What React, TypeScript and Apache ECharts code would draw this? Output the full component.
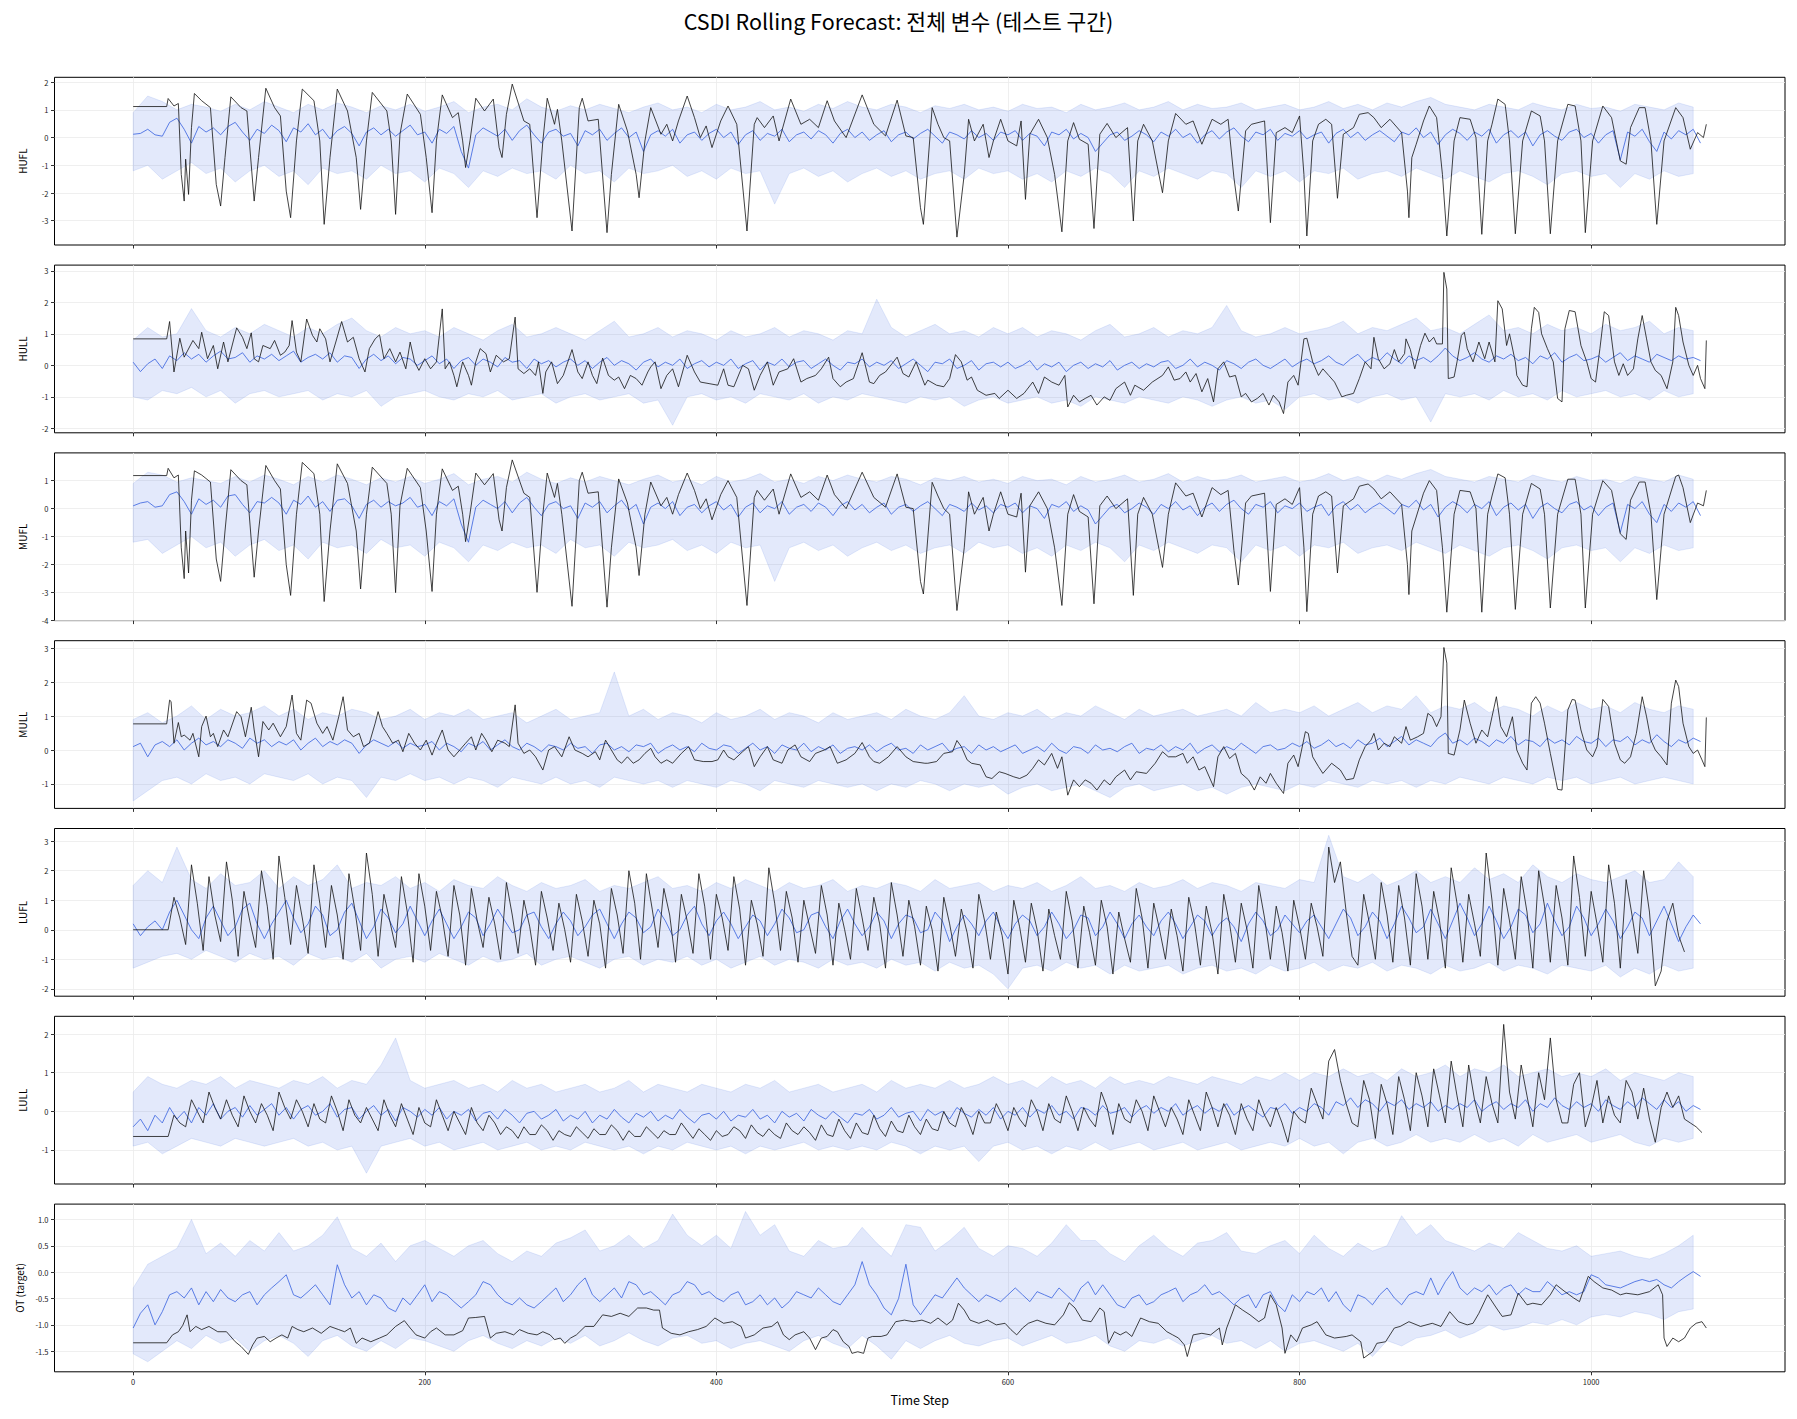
import React, { useEffect, useRef } from 'react';
import * as echarts from 'echarts';

const TITLE = 'CSDI Rolling Forecast: 전체 변수 (테스트 구간)';
const X_TICKS = [0, 200, 400, 600, 800, 1000];
const MEAN_STEP = 5;
const BAND_STEP = 10;
const DENSE_START = 24;
const DENSE_STEP = 4;

// ---------------- HUFL ----------------
const HUFL_TICKS = [-3, -2, -1, 0, 1, 2];
const HUFL_ACT = [[0,1.12],[23,1.12],[24,1.41],[28,1.14],[31,1.23],[33,-1.33],[35,-2.29],[36,-0.78],[38,-2.05],[40,0.36],[42,1.59],[47,1.33],[53,1.08],[57,-1.69],[60,-2.47],[63,-0.72],[67,1.47],[74,1.08],[78,0.96],[83,-2.29],[86,-0.72],[91,1.78],[97,1.08],[101,0.78],[105,-1.93],[108,-2.89],[112,-0.12],[116,1.75],[124,1.33],[128,-0.12],[131,-3.13],[135,-0.72],[140,1.75],[147,0.96],[153,-0.72],[156,-2.59],[160,-0.12],[164,1.63],[174,0.96],[177,-0.12],[180,-2.77],[183,0.12],[188,1.57],[197,0.84],[201,-0.72],[205,-2.71],[208,-0.12],[212,1.54],[219,0.72],[223,0.9],[226,-0.12],[228,-1.08],[231,-0.12],[235,1.42],[241,0.96],[247,1.39],[251,-0.36],[253,-0.72],[256,0.84],[260,1.93],[268,0.6],[272,0.48],[277,-2.89],[281,-0.12],[284,1.42],[289,0.48],[291,1.02],[294,-0.12],[301,-3.37],[306,1.08],[308,1.42],[312,0.6],[319,0.66],[325,-3.43],[328,-1.33],[333,1.2],[339,0.24],[345,-1.33],[347,-2.17],[351,-0.12],[355,1.08],[362,0.12],[366,0.48],[370,-0.12],[374,0.6],[380,1.5],[385,0.72],[389,0],[393,0.42],[397,-0.36],[403,0.6],[408,1.14],[414,0.48],[421,-3.37],[426,0.48],[428,0.72],[433,0.36],[439,0.78],[443,-0.12],[451,1.39],[458,0.48],[464,0.66],[470,0.36],[476,1.33],[481,0.6],[489,0],[500,1.54],[508,0.48],[516,0.06],[524,1.35],[530,0.06],[535,0],[540,-2.53],[542,-3.13],[548,1.08],[552,0.48],[556,0],[560,-0.12],[565,-3.59],[570,-1.33],[573,0.66],[577,-0.12],[583,0.48],[587,-0.72],[590,-0.12],[595,0.66],[600,-0.12],[606,-0.3],[609,0.6],[612,-2.23],[615,0.12],[621,0.66],[627,0],[632,-1.33],[637,-3.4],[641,-0.12],[645,0.54],[649,-0.06],[655,-0.24],[659,-3.28],[663,0.12],[668,0.51],[674,0],[682,0.36],[686,-3.01],[689,-0.12],[693,0.48],[699,-0.12],[706,-1.99],[710,-0.12],[715,0.87],[722,0.48],[727,0.6],[733,-0.24],[740,0.66],[746,0.48],[751,0.66],[755,-1.45],[758,-2.65],[763,0.24],[767,0.48],[776,0.6],[780,-3.07],[784,0.18],[790,0.36],[795,0.18],[800,0.78],[803,-1.33],[805,-3.55],[809,-0.12],[813,0.48],[818,0.66],[822,0.48],[826,-2.19],[830,0.12],[837,0.36],[841,0.84],[847,0.9],[851,0.72],[856,0.36],[862,0.66],[870,0.18],[874,-1.93],[875,-2.89],[877,-0.72],[880,-0.24],[885,0.6],[889,1.14],[894,0.72],[898,-1.33],[901,-3.55],[906,-0.12],[910,0.72],[917,0.66],[921,0],[925,-3.49],[929,-0.12],[932,0.48],[936,1.39],[941,1.2],[944,-0.12],[948,-3.47],[953,-0.12],[959,0.96],[965,0.78],[968,-0.12],[972,-3.47],[977,-0.12],[984,1.2],[989,1.14],[993,-0.12],[996,-3.43],[1001,-0.12],[1008,1.14],[1014,0.72],[1020,-0.84],[1024,-0.96],[1027,0.36],[1033,1.08],[1037,1.08],[1041,-0.12],[1045,-3.13],[1050,-0.12],[1058,1.08],[1063,0.72],[1068,-0.42],[1073,0.18],[1077,0],[1079,0.48]];
const HUFL_MEAN = [
0.12,0.15,0.3,0.1,0.05,0.55,0.7,0.3,-0.2,0.4,0.2,0.35,0.1,0.4,0.55,0.2,-0.1,0.3,0.15,0.45,
0.25,-0.15,0.35,0.2,0.5,0.1,0.3,-0.05,0.25,0.4,0.15,-0.3,0.2,0.35,0.1,0.3,0.05,0.25,0.45,0.1,
0.2,-0.2,0.3,0.15,0.4,-0.5,-1.1,0.1,0.35,0.2,0.05,0.3,-0.1,0.25,0.45,0.1,-0.2,0.2,0.3,0.05,
0.15,-0.3,0.25,0.1,0.3,-0.1,0.15,0.35,0.0,0.2,-0.5,0.1,0.25,0.05,0.3,-0.2,0.1,0.2,-0.1,0.15,
0.3,0.0,0.2,-0.25,0.1,0.25,-0.1,0.15,0.05,0.3,-0.15,0.1,0.2,-0.05,0.25,0.1,-0.2,0.15,0.3,0.0,
0.2,-0.1,0.1,0.25,-0.15,0.1,0.2,-0.05,0.15,0.3,0.05,-0.2,0.2,0.1,-0.05,0.25,0.0,0.15,-0.1,0.2,
0.1,0.25,-0.1,0.15,0.05,-0.3,0.2,0.1,0.3,-0.05,0.15,0.0,-0.5,-0.2,0.1,0.2,-0.1,0.05,0.25,0.1,
-0.15,0.2,0.05,0.3,0.0,0.15,-0.2,0.1,0.25,-0.05,0.2,0.35,0.05,-0.15,0.2,0.1,0.3,-0.1,0.15,0.05,
0.25,-0.05,0.1,0.2,-0.2,0.15,0.3,0.0,0.2,-0.1,0.1,0.25,0.05,-0.15,0.2,0.1,0.35,0.0,0.2,-0.25,
0.1,0.3,0.15,-0.1,0.2,0.05,0.3,-0.2,0.1,0.25,0.0,0.2,-0.3,0.1,0.25,0.05,-0.1,0.2,0.3,0.0,
0.15,-0.2,0.1,0.25,-0.8,0.2,0.05,0.3,-0.15,-0.5,0.2,-0.05,0.25,0.1,0.3,-0.2];
const HUFL_UP = [
0.9,1.5,1.3,1.0,1.2,1.1,0.95,1.2,1.0,1.3,1.1,0.9,1.2,1.0,1.25,1.1,0.9,1.15,1.0,1.2,
0.95,1.1,1.3,0.9,1.1,1.2,1.0,1.4,1.1,0.95,1.15,1.0,1.2,1.05,0.9,1.1,1.25,1.0,1.1,0.9,
1.2,1.0,1.1,1.3,1.0,1.1,0.95,1.2,1.05,1.3,1.1,1.0,1.2,1.1,0.9,1.15,1.05,1.2,1.0,1.1,
0.95,1.2,1.05,1.1,0.9,1.2,1.0,1.1,1.25,1.0,1.1,1.3,1.0,1.2,1.05,1.1,1.25,1.0,1.1,1.2,
1.0,1.1,1.3,1.05,1.2,1.0,1.25,1.1,1.3,1.45,1.2,1.1,1.0,1.2,1.1,1.0,1.25,1.1,1.0,1.2,
1.05,1.1,0.95,1.2,1.1,1.0,1.25,1.1];
const HUFL_LO = [
-1.2,-1.0,-1.5,-1.2,-0.9,-1.3,-1.1,-1.6,-1.2,-1.0,-1.4,-1.2,-1.7,-1.1,-1.3,-1.2,-1.5,-1.0,-1.3,-1.2,
-1.6,-1.1,-1.3,-1.8,-1.2,-1.4,-1.1,-1.3,-1.2,-1.5,-1.0,-1.3,-1.2,-1.6,-1.1,-1.3,-1.2,-1.0,-1.4,-1.2,
-1.5,-1.1,-1.3,-1.2,-2.4,-1.3,-1.1,-1.4,-1.2,-1.6,-1.3,-1.1,-1.4,-1.2,-1.5,-1.3,-1.2,-1.5,-1.1,-1.3,
-1.2,-1.5,-1.3,-1.6,-1.2,-1.4,-1.1,-1.3,-1.8,-1.2,-1.4,-1.1,-1.3,-1.5,-1.2,-1.3,-1.8,-1.2,-1.4,-1.2,
-1.6,-1.2,-1.3,-1.1,-1.5,-1.3,-1.2,-1.4,-1.1,-1.3,-1.5,-1.2,-1.4,-1.6,-1.3,-1.2,-1.4,-1.7,-1.3,-1.2,
-1.4,-1.3,-1.8,-1.3,-1.5,-1.2,-1.4,-1.3];

// ---------------- HULL ----------------
const HULL_TICKS = [-2, -1, 0, 1, 2, 3];
const HULL_ACT = [[0,0.84],[23,0.84],[25,1.39],[28,-0.21],[32,0.86],[35,0.26],[41,0.79],[45,0.53],[47,1.05],[51,0.21],[55,0.63],[58,-0.11],[62,0.74],[65,0.11],[71,1.19],[75,0.89],[78,0.53],[81,1.03],[83,0.21],[86,0.11],[89,0.63],[94,0.53],[97,0.79],[101,0.32],[104,0.42],[107,0.63],[109,1.42],[112,0.42],[115,0.11],[119,1.47],[123,0.95],[126,0.74],[128,1.16],[132,0.84],[135,0.11],[139,0.74],[143,1.39],[147,0.74],[151,0.89],[155,0.21],[159,-0.21],[162,0.53],[166,0.84],[169,0.97],[172,0.21],[176,0.53],[180,0.11],[183,0.42],[187,-0.11],[190,0.74],[193,0.11],[196,-0.16],[200,0.21],[204,-0.11],[208,0.11],[212,1.79],[214,-0.11],[217,0.11],[220,-0.32],[222,-0.68],[226,0.11],[230,-0.32],[232,-0.63],[235,0.11],[238,0.53],[242,0.37],[245,-0.21],[249,0.32],[254,0.11],[258,0.21],[262,1.53],[264,-0.11],[268,-0.26],[272,-0.11],[276,-0.32],[278,0.11],[281,-0.89],[283,-0.21],[287,0.11],[291,-0.58],[295,-0.32],[301,0.5],[305,-0.21],[308,-0.42],[312,0.11],[315,-0.32],[318,-0.58],[322,0.23],[326,-0.32],[330,-0.47],[333,-0.37],[337,-0.74],[341,-0.32],[345,-0.42],[349,-0.63],[353,-0.21],[355,-0.05],[358,0.11],[362,-0.74],[366,-0.32],[370,-0.11],[374,-0.68],[380,0.32],[385,-0.21],[389,-0.53],[395,-0.58],[401,-0.63],[405,-0.11],[408,-0.63],[412,-0.68],[418,0],[422,-0.11],[426,-0.79],[430,-0.32],[435,0.11],[439,-0.63],[443,-0.21],[449,-0.11],[453,0.21],[458,-0.53],[462,-0.42],[468,-0.32],[472,-0.11],[477,0.26],[480,-0.42],[485,-0.68],[489,-0.53],[494,-0.42],[500,0.4],[505,-0.53],[508,-0.58],[512,-0.32],[516,-0.21],[524,0.26],[528,-0.26],[532,-0.37],[537,0.11],[543,-0.63],[545,-0.47],[551,-0.63],[556,-0.68],[560,-0.42],[564,0.34],[568,0.11],[572,-0.47],[575,-0.37],[579,-0.79],[585,-0.95],[591,-0.89],[594,-1.05],[600,-0.79],[606,-1.05],[611,-0.89],[617,-0.53],[621,-0.89],[625,-0.37],[630,-0.53],[635,-0.63],[639,-0.32],[641,-1.32],[645,-0.95],[649,-1.16],[653,-1.05],[657,-0.95],[661,-1.26],[666,-1.0],[670,-1.11],[674,-0.74],[680,-0.53],[684,-0.95],[687,-0.63],[693,-0.79],[699,-0.53],[706,-0.32],[710,-0.05],[714,-0.47],[718,-0.42],[722,-0.21],[725,-0.53],[729,-0.26],[733,-0.84],[737,-0.42],[741,-1.16],[744,-0.11],[748,0.11],[752,-0.37],[756,-0.32],[760,-1.0],[763,-0.89],[767,-1.16],[771,-1.05],[775,-0.89],[779,-1.26],[782,-0.95],[786,-1.16],[789,-1.53],[792,-0.53],[796,-0.32],[799,-0.63],[803,0.84],[805,0.86],[809,0.11],[813,-0.32],[816,-0.11],[820,-0.32],[824,-0.53],[829,-1.0],[832,-0.95],[837,-0.89],[841,-0.42],[845,0.11],[849,-0.11],[851,0.89],[854,0.21],[858,-0.11],[862,0.05],[865,0.5],[868,0.11],[872,0.37],[873,0.84],[876,0.5],[879,-0.11],[883,0.63],[886,1.02],[889,0.74],[892,0.89],[894,0.68],[898,0.68],[899,2.95],[901,2.42],[902,-0.42],[906,-0.37],[908,0.11],[911,0.95],[913,1.05],[915,0.53],[919,0.11],[923,0.74],[927,0.21],[930,0.74],[934,0.11],[936,2.05],[939,1.79],[942,0.63],[944,1.0],[948,0.11],[949,-0.32],[953,-0.63],[956,-0.68],[959,1.16],[961,1.84],[964,1.68],[966,1.0],[970,0.53],[974,0.11],[977,-1.05],[980,-1.16],[982,1.16],[985,1.74],[989,1.7],[993,0.63],[997,0.11],[1000,-0.42],[1003,-0.53],[1006,0.53],[1009,1.7],[1012,1.58],[1016,0.11],[1019,-0.32],[1022,0.05],[1025,-0.32],[1029,-0.11],[1032,0.84],[1035,1.58],[1038,0.84],[1041,0.11],[1044,-0.16],[1048,-0.32],[1052,-0.74],[1056,0.11],[1058,1.84],[1060,1.58],[1063,0.74],[1067,0],[1070,-0.32],[1073,0],[1075,-0.42],[1078,-0.74],[1079,0.79]];
const HULL_MEAN = [
0.1,-0.2,0.05,0.2,-0.1,0.3,0.15,0.4,0.2,0.35,0.1,0.3,0.45,0.2,0.25,0.4,0.1,0.3,0.2,0.35,
0.15,0.3,0.45,0.1,0.25,0.35,0.2,0.4,0.1,0.3,0.25,-0.1,0.2,0.35,0.15,0.3,0.05,0.25,0.2,0.0,
0.15,0.3,0.05,0.2,-0.1,0.15,0.25,0.0,0.2,0.1,-0.05,0.25,0.1,0.15,-0.1,0.2,0.05,0.15,-0.05,0.1,
0.2,0.0,0.15,-0.1,0.1,0.25,0.0,0.15,0.05,-0.15,0.1,0.2,-0.05,0.1,0.0,0.2,-0.1,0.05,0.15,-0.05,
0.1,0.0,0.2,-0.1,0.05,0.15,-0.15,0.1,0.0,0.2,-0.05,0.1,0.15,-0.1,0.05,0.2,0.0,-0.15,0.1,0.05,
0.2,-0.05,0.1,0.0,0.15,-0.1,0.05,0.2,0.0,-0.2,0.1,0.05,0.2,-0.1,0.0,0.15,-0.15,0.05,0.1,-0.05,
0.1,-0.1,0.0,0.15,-0.15,0.05,-0.05,0.1,-0.2,0.0,0.1,-0.1,0.05,-0.05,0.15,-0.15,0.0,0.1,-0.1,0.05,
-0.05,0.1,0.15,-0.1,0.0,0.2,-0.05,0.1,0.0,-0.15,0.15,0.05,-0.1,0.1,0.2,0.0,-0.1,0.05,0.2,-0.05,
0.1,0.2,0.05,0.15,0.3,0.1,0.0,0.2,0.35,0.1,0.25,0.15,0.4,0.2,0.05,0.3,0.15,0.25,0.1,0.3,
0.55,0.3,0.15,0.25,0.4,0.2,0.1,0.3,0.2,0.35,0.15,0.25,0.05,0.3,0.2,0.4,0.1,0.25,0.35,0.15,
0.2,0.3,0.1,0.25,0.4,0.15,0.3,0.2,0.1,0.35,0.25,0.15,0.3,0.2,0.25,0.15];
const HULL_UP = [
0.8,1.2,0.9,1.0,1.8,1.1,0.9,1.2,1.0,1.3,1.1,0.9,1.2,1.0,1.3,1.5,1.1,0.9,1.2,1.0,
1.1,0.9,1.2,1.0,0.8,1.1,1.3,0.9,1.0,1.2,1.0,0.8,1.1,1.4,0.9,1.0,1.2,0.9,1.1,1.0,
0.8,1.1,0.9,1.0,1.2,0.9,1.1,1.0,0.8,1.1,1.0,2.1,1.2,0.9,1.1,1.3,1.0,1.1,0.9,1.2,
1.0,1.2,0.9,1.1,1.0,0.8,1.1,1.3,0.9,1.0,1.2,0.9,1.1,1.0,1.2,1.9,1.1,0.9,1.0,1.2,
1.0,1.1,1.2,1.4,1.0,1.2,1.1,1.3,1.5,1.1,1.2,1.0,1.3,1.6,1.1,1.2,1.0,1.3,1.1,1.2,
1.0,1.3,1.1,1.2,1.4,1.0,1.2,1.1];
const HULL_LO = [
-1.0,-1.1,-0.8,-0.9,-0.7,-1.0,-0.8,-1.2,-0.9,-0.8,-1.0,-0.9,-0.8,-1.1,-0.9,-1.0,-0.8,-1.3,-1.0,-0.9,
-0.8,-1.0,-1.1,-0.9,-1.0,-0.8,-1.1,-1.0,-0.9,-1.2,-1.0,-0.9,-1.1,-1.0,-0.9,-1.2,-1.1,-1.9,-1.0,-0.9,
-1.1,-1.0,-1.2,-0.9,-1.0,-1.1,-0.9,-1.2,-1.0,-1.1,-0.9,-1.0,-1.1,-1.2,-1.0,-1.1,-1.0,-1.3,-1.1,-1.0,
-1.2,-1.1,-1.0,-1.2,-1.1,-1.3,-1.0,-1.1,-1.2,-1.0,-1.1,-1.2,-1.0,-1.1,-1.3,-1.1,-1.0,-1.2,-1.1,-1.4,
-1.0,-0.9,-1.1,-1.0,-1.2,-1.0,-0.9,-1.1,-1.0,-1.8,-0.9,-1.0,-0.9,-1.1,-0.8,-1.0,-0.9,-1.1,-0.8,-1.0,
-0.9,-0.8,-1.0,-0.9,-1.1,-0.8,-1.0,-0.9];

// ---------------- MUFL ----------------
const MUFL_TICKS = [-4, -3, -2, -1, 0, 1];
const MUFL_ACT = [[0,1.18],[23,1.18],[24,1.44],[28,1.1],[31,1.2],[33,-1.4],[35,-2.5],[36,-0.8],[38,-2.3],[40,0.3],[42,1.35],[47,1.2],[53,0.95],[57,-1.8],[60,-2.6],[63,-0.8],[67,1.39],[74,1.0],[78,0.85],[83,-2.45],[86,-0.8],[91,1.54],[97,1.0],[101,0.7],[105,-2.0],[108,-3.1],[112,-0.2],[116,1.65],[124,1.25],[128,-0.2],[131,-3.32],[135,-0.8],[140,1.6],[147,0.9],[153,-0.8],[156,-2.87],[160,-0.2],[164,1.48],[174,0.9],[177,-0.2],[180,-3.0],[183,0.1],[188,1.44],[197,0.75],[201,-0.8],[205,-2.96],[208,-0.2],[212,1.42],[219,0.65],[223,0.8],[226,-0.2],[228,-1.18],[231,-0.2],[235,1.27],[241,0.85],[247,1.25],[251,-0.4],[253,-0.8],[256,0.75],[260,1.74],[268,0.55],[272,0.4],[277,-2.99],[281,-0.2],[284,1.27],[289,0.4],[291,0.9],[294,-0.2],[301,-3.49],[306,1.0],[308,1.3],[312,0.55],[319,0.6],[325,-3.52],[328,-1.4],[333,1.06],[339,0.2],[345,-1.4],[347,-2.39],[351,-0.2],[355,0.95],[362,0.1],[366,0.4],[370,-0.2],[374,0.5],[380,1.27],[385,0.65],[389,0],[393,0.35],[397,-0.4],[403,0.5],[408,1.0],[414,0.4],[421,-3.46],[426,0.4],[428,0.65],[433,0.3],[439,0.7],[443,-0.2],[451,1.24],[458,0.4],[464,0.6],[470,0.3],[476,1.2],[481,0.5],[489,0],[500,1.3],[508,0.4],[516,0.05],[524,1.24],[530,0.05],[535,0],[540,-2.6],[542,-3.05],[548,0.94],[552,0.45],[556,0],[560,-0.2],[565,-3.64],[570,-1.4],[573,0.6],[577,-0.2],[583,0.4],[587,-0.8],[590,-0.2],[595,0.6],[600,-0.2],[606,-0.3],[609,0.55],[612,-2.27],[615,0.1],[621,0.6],[627,0],[632,-1.4],[637,-3.46],[641,-0.2],[645,0.5],[649,-0.1],[655,-0.3],[659,-3.4],[663,0.1],[668,0.45],[674,0],[682,0.35],[686,-3.1],[689,-0.2],[693,0.4],[699,-0.2],[706,-2.1],[710,-0.2],[715,0.92],[722,0.45],[727,0.55],[733,-0.3],[740,0.75],[746,0.5],[751,0.65],[755,-1.5],[758,-2.73],[763,0.2],[767,0.45],[776,0.55],[780,-2.96],[784,0.15],[790,0.35],[795,0.15],[800,0.75],[803,-1.4],[805,-3.68],[809,-0.2],[813,0.45],[818,0.6],[822,0.45],[826,-2.3],[830,0.1],[837,0.35],[841,0.8],[847,0.88],[851,0.7],[856,0.35],[862,0.6],[870,0.15],[874,-2.0],[875,-3.07],[877,-0.8],[880,-0.3],[885,0.55],[889,1.0],[894,0.65],[898,-1.4],[901,-3.7],[906,-0.2],[910,0.65],[917,0.6],[921,0],[925,-3.7],[929,-0.2],[932,0.45],[936,1.24],[941,1.1],[944,-0.2],[948,-3.6],[953,-0.2],[959,0.9],[965,0.7],[968,-0.2],[972,-3.55],[977,-0.2],[984,1.05],[989,1.05],[993,-0.2],[996,-3.55],[1001,-0.2],[1008,1.0],[1014,0.65],[1020,-0.9],[1024,-1.1],[1027,0.3],[1033,0.95],[1037,0.95],[1041,-0.2],[1045,-3.25],[1050,-0.2],[1058,1.15],[1060,1.2],[1063,0.75],[1068,-0.5],[1073,0.2],[1077,0.1],[1079,0.65]];
const MUFL_MEAN = [
0.1,0.2,0.25,0.05,0.1,0.5,0.6,0.25,-0.2,0.35,0.15,0.3,0.05,0.45,0.5,0.15,-0.15,0.25,0.2,0.4,
0.2,-0.2,0.3,0.15,0.45,0.05,0.25,-0.1,0.3,0.35,0.1,-0.35,0.15,0.3,0.05,0.25,0.1,0.2,0.4,0.05,
0.15,-0.25,0.25,0.1,0.35,-0.55,-1.2,0.05,0.3,0.15,0.0,0.25,-0.15,0.2,0.4,0.05,-0.25,0.15,0.25,0.0,
0.1,-0.35,0.2,0.05,0.25,-0.15,0.1,0.3,-0.05,0.15,-0.55,0.05,0.2,0.0,0.25,-0.25,0.05,0.15,-0.15,0.1,
0.25,-0.05,0.15,-0.3,0.05,0.2,-0.15,0.1,0.0,0.25,-0.2,0.05,0.15,-0.1,0.2,0.05,-0.25,0.1,0.25,-0.05,
0.15,-0.15,0.05,0.2,-0.2,0.05,0.15,-0.1,0.1,0.25,0.0,-0.25,0.15,0.05,-0.1,0.2,-0.05,0.1,-0.15,0.15,
0.05,0.2,-0.15,0.1,0.0,-0.35,0.15,0.05,0.25,-0.1,0.1,-0.05,-0.55,-0.25,0.05,0.15,-0.15,0.0,0.2,0.05,
-0.2,0.15,0.0,0.25,-0.05,0.1,-0.25,0.05,0.2,-0.1,0.15,0.3,0.0,-0.2,0.15,0.05,0.25,-0.15,0.1,0.0,
0.2,-0.1,0.05,0.15,-0.25,0.1,0.25,-0.05,0.15,-0.15,0.05,0.2,0.0,-0.2,0.15,0.05,0.3,-0.05,0.15,-0.3,
0.05,0.25,0.1,-0.15,0.15,0.0,0.25,-0.25,0.05,0.2,-0.05,0.15,-0.35,0.05,0.2,0.0,-0.15,0.15,0.25,-0.05,
0.1,-0.25,0.05,0.2,-0.85,0.15,0.0,0.25,-0.2,-0.5,0.15,-0.1,0.2,0.05,0.25,-0.25];
const MUFL_UP = [
0.9,1.3,1.2,0.95,1.1,1.0,0.9,1.15,0.95,1.2,1.05,0.85,1.15,0.95,1.2,1.05,0.85,1.1,0.95,1.15,
0.9,1.05,1.25,0.85,1.05,1.15,0.95,1.3,1.05,0.9,1.1,0.95,1.15,1.0,0.85,1.05,1.2,0.95,1.05,0.85,
1.15,0.95,1.05,1.25,0.95,1.05,0.9,1.15,1.0,1.2,1.05,0.95,1.15,1.05,0.85,1.1,1.0,1.15,0.95,1.05,
0.9,1.15,1.0,1.05,0.85,1.15,0.95,1.05,1.2,0.95,1.05,1.25,0.95,1.15,1.0,1.05,1.2,0.95,1.05,1.15,
0.95,1.05,1.25,1.0,1.15,0.95,1.2,1.05,1.25,1.4,1.15,1.05,0.95,1.15,1.05,0.95,1.2,1.05,0.95,1.15,
1.0,1.05,0.9,1.15,1.05,0.95,1.2,1.05];
const MUFL_LO = [
-1.2,-1.1,-1.6,-1.3,-1.0,-1.4,-1.2,-1.7,-1.3,-1.1,-1.5,-1.3,-1.8,-1.2,-1.4,-1.3,-1.6,-1.1,-1.4,-1.3,
-1.7,-1.2,-1.4,-1.9,-1.3,-1.5,-1.2,-1.4,-1.3,-1.6,-1.1,-1.4,-1.3,-1.7,-1.2,-1.4,-1.3,-1.1,-1.5,-1.3,
-1.6,-1.2,-1.4,-1.3,-2.6,-1.4,-1.2,-1.5,-1.3,-1.7,-1.4,-1.2,-1.5,-1.3,-1.6,-1.4,-1.3,-1.6,-1.2,-1.4,
-1.3,-1.6,-1.4,-1.7,-1.3,-1.5,-1.2,-1.4,-1.9,-1.3,-1.5,-1.2,-1.4,-1.6,-1.3,-1.4,-1.9,-1.3,-1.5,-1.3,
-1.7,-1.3,-1.4,-1.2,-1.6,-1.4,-1.3,-1.5,-1.2,-1.4,-1.6,-1.3,-1.5,-1.7,-1.4,-1.3,-1.5,-1.8,-1.4,-1.3,
-1.5,-1.4,-1.9,-1.4,-1.6,-1.3,-1.5,-1.4];

// ---------------- MULL ----------------
const MULL_TICKS = [-1, 0, 1, 2, 3];
const MULL_ACT = [[0,0.77],[23,0.77],[25,1.47],[26,1.43],[28,0.2],[31,0.81],[33,0.39],[35,0.44],[39,0.29],[41,0.49],[45,-0.2],[47,0.69],[50,1.0],[53,0.39],[55,0.49],[58,0.1],[62,0.59],[65,0.39],[71,1.13],[74,0.98],[77,0.39],[81,1.26],[83,0.59],[86,-0.2],[89,0.84],[93,0.59],[96,0.79],[101,0.39],[105,0.69],[109,1.62],[112,0.49],[115,0.29],[119,1.47],[122,1.38],[126,0.79],[130,0.49],[133,0.69],[137,0.29],[141,0.98],[144,1.57],[147,0.59],[151,0.39],[155,0.49],[158,0.1],[162,0.2],[166,0.79],[168,1.13],[171,0.69],[174,0.49],[178,0.2],[182,0.29],[185,-0.05],[189,0.49],[193,0.2],[197,0],[201,0.29],[205,-0.15],[208,0.2],[212,0.59],[216,0],[220,-0.2],[224,0],[228,0.2],[232,0.39],[235,0],[239,0.49],[242,0.29],[246,-0.05],[250,0.29],[255,0.2],[258,0.1],[262,1.33],[264,0.2],[268,-0.1],[272,0],[276,-0.2],[281,-0.59],[285,0],[289,0.1],[294,-0.2],[299,0.39],[303,0],[308,-0.1],[312,-0.2],[317,-0.05],[320,-0.29],[324,0.29],[328,0],[332,-0.29],[335,-0.39],[339,-0.2],[343,-0.39],[347,-0.29],[351,-0.1],[355,0.05],[358,-0.2],[362,-0.39],[366,-0.29],[370,-0.39],[376,-0.1],[381,0.1],[385,-0.29],[391,-0.34],[397,-0.34],[401,-0.29],[405,0],[408,-0.2],[412,-0.29],[418,-0.05],[422,0.1],[426,-0.49],[430,-0.2],[435,0.1],[439,-0.29],[445,-0.39],[449,0],[454,0.15],[458,-0.2],[464,-0.34],[468,-0.1],[474,0],[478,0.1],[483,-0.39],[489,-0.29],[495,-0.1],[500,0.22],[505,-0.2],[508,-0.34],[512,-0.39],[518,-0.2],[524,0.1],[530,-0.2],[535,-0.34],[543,-0.39],[545,-0.39],[551,-0.34],[556,-0.1],[562,-0.05],[565,0.28],[568,0.1],[572,-0.29],[575,-0.39],[581,-0.44],[585,-0.79],[589,-0.84],[594,-0.64],[598,-0.69],[604,-0.79],[608,-0.84],[613,-0.74],[617,-0.54],[621,-0.29],[625,-0.44],[630,-0.1],[634,-0.54],[637,-0.2],[641,-1.33],[645,-0.88],[649,-1.08],[653,-0.88],[657,-0.98],[661,-1.18],[666,-0.88],[670,-1.03],[674,-0.79],[680,-0.59],[684,-0.88],[688,-0.64],[695,-0.69],[701,-0.39],[706,-0.05],[710,-0.2],[715,-0.2],[720,-0.1],[723,-0.39],[727,-0.2],[731,-0.59],[735,-0.49],[741,-1.08],[744,-0.2],[748,0.1],[752,-0.25],[756,-0.1],[760,-0.69],[765,-0.88],[769,-1.18],[773,-0.79],[777,-0.98],[780,-0.69],[784,-0.98],[789,-1.28],[792,-0.39],[796,-0.15],[799,-0.49],[804,0.54],[806,0.49],[809,-0.2],[813,-0.49],[816,-0.69],[822,-0.39],[828,-0.59],[832,-0.88],[837,-0.84],[841,-0.29],[845,0.1],[849,0.29],[851,0.49],[854,0],[858,0.2],[862,0.1],[865,0.39],[870,0.2],[873,0.69],[876,0.29],[881,0.39],[885,0.49],[888,1.08],[891,0.98],[894,0.69],[897,0.98],[899,3.02],[901,2.56],[902,-0.1],[906,-0.15],[910,0.59],[913,1.47],[917,0.79],[921,0.2],[925,0.59],[929,0.39],[932,0.98],[935,1.57],[938,0.69],[942,0.39],[946,0.98],[949,0],[953,-0.39],[956,-0.59],[959,1.38],[962,1.57],[965,1.38],[968,0.79],[972,-0.1],[977,-1.16],[980,-1.18],[984,1.18],[987,1.49],[989,1.47],[993,0.59],[997,0],[1001,-0.2],[1004,0.1],[1008,1.49],[1012,1.28],[1016,0.2],[1020,-0.29],[1023,-0.39],[1027,-0.2],[1031,0.49],[1035,1.57],[1038,0.98],[1041,0.29],[1044,0],[1048,-0.2],[1052,-0.44],[1055,1.38],[1058,2.06],[1060,1.87],[1063,0.79],[1067,0.1],[1070,-0.1],[1073,0],[1076,-0.29],[1078,-0.49],[1079,0.96]];
const MULL_MEAN = [
0.1,0.2,-0.2,0.15,0.25,0.1,0.3,0.0,0.2,0.35,0.15,0.25,0.1,0.3,0.2,0.05,0.35,0.2,0.3,0.1,
0.25,0.15,0.3,0.0,0.2,0.35,0.1,0.25,0.15,0.3,0.2,-0.1,0.15,0.3,0.2,0.1,0.25,0.05,0.2,0.1,
0.15,0.25,0.0,0.2,0.1,-0.05,0.2,0.1,0.25,0.0,0.15,0.3,0.1,0.0,0.2,0.1,-0.05,0.15,0.1,0.0,
0.2,0.05,0.1,-0.1,0.15,0.2,0.0,0.1,-0.05,0.15,0.1,0.2,-0.1,0.05,0.15,0.0,0.1,-0.05,0.2,0.05,
0.0,0.15,0.1,-0.1,0.05,0.2,0.0,0.1,-0.1,0.15,0.05,0.0,0.2,-0.05,0.1,0.0,0.15,-0.1,0.05,0.1,
0.0,0.15,-0.05,0.1,0.2,0.0,0.05,-0.1,0.15,0.0,0.1,0.2,-0.05,0.05,0.1,-0.1,0.15,0.0,0.1,-0.05,
0.05,0.15,-0.1,0.0,0.1,-0.05,0.2,0.0,-0.1,0.1,0.05,-0.1,0.15,0.0,0.05,-0.05,0.1,0.2,-0.1,0.05,
0.0,0.15,-0.05,0.1,0.0,0.2,-0.1,0.05,0.15,-0.05,0.1,0.0,0.2,0.05,-0.1,0.1,0.15,0.0,0.05,0.2,
0.1,0.25,0.05,0.15,0.3,0.1,0.2,0.05,0.3,0.15,0.2,0.35,0.1,0.25,0.4,0.15,0.3,0.2,0.1,0.35,
0.5,0.2,0.3,0.15,0.35,0.25,0.1,0.3,0.2,0.4,0.15,0.3,0.25,0.1,0.35,0.2,0.3,0.15,0.4,0.25,
0.2,0.35,0.1,0.3,0.25,0.4,0.15,0.3,0.2,0.45,0.25,0.1,0.3,0.2,0.35,0.25];
const MULL_UP = [
0.9,1.1,0.8,1.0,1.3,0.9,1.2,1.0,1.1,1.3,1.0,1.2,0.9,1.1,1.0,1.2,1.1,0.9,1.0,1.2,
0.9,1.1,1.0,1.2,0.9,1.0,1.1,0.8,1.0,1.2,0.9,1.0,1.1,2.3,1.0,1.2,0.9,1.1,1.0,0.8,
1.1,0.9,1.0,1.2,0.9,1.1,1.0,0.8,1.1,0.9,1.0,1.1,0.9,1.2,1.0,0.9,1.1,1.6,1.0,0.9,
1.1,1.0,1.2,0.9,1.1,1.0,1.3,1.1,0.9,1.2,1.0,1.1,1.2,1.0,1.1,1.2,1.0,1.4,1.1,1.2,
1.1,1.3,1.0,1.2,1.4,1.1,1.3,1.2,1.6,1.1,1.3,1.2,1.4,1.1,1.3,1.2,1.0,1.3,1.1,1.4,
1.2,1.3,1.1,1.4,1.2,1.1,1.3,1.2];
const MULL_LO = [
-1.5,-1.2,-0.9,-0.8,-1.0,-0.7,-0.9,-0.8,-1.0,-0.7,-0.8,-0.9,-0.7,-1.0,-0.8,-0.9,-1.4,-0.8,-0.9,-0.7,
-0.9,-0.8,-1.0,-0.8,-0.9,-1.1,-0.8,-0.9,-1.0,-0.8,-1.0,-0.9,-1.1,-0.8,-0.9,-1.0,-0.9,-1.1,-0.9,-1.0,
-1.1,-0.9,-1.0,-1.2,-0.9,-1.0,-1.1,-0.9,-1.0,-1.1,-1.0,-1.2,-1.0,-1.1,-0.9,-1.0,-1.2,-1.0,-1.1,-1.0,
-1.3,-1.1,-1.0,-1.2,-1.1,-1.0,-1.2,-1.4,-1.1,-1.0,-1.2,-1.1,-1.0,-1.2,-1.1,-1.3,-1.1,-1.0,-1.1,-1.2,
-1.0,-1.1,-0.9,-1.0,-1.1,-0.9,-1.0,-0.9,-1.1,-0.9,-1.0,-0.8,-0.9,-1.0,-0.8,-0.9,-1.0,-0.8,-0.9,-0.8,
-1.0,-0.9,-0.8,-1.0,-0.9,-0.8,-0.9,-1.0];

// ---------------- LUFL ----------------
const LUFL_TICKS = [-2, -1, 0, 1, 2, 3];
const LUFL_FLAT = [[0, 0]];
// actual values from step 24, every 4 steps
const LUFL_ACT_Y = [
0.0,1.1,0.4, -0.5,2.2,0.9, -0.7,1.8,0.5, -0.4,2.3,1.0, -0.9,1.3,0.3, -0.6,2.0,0.8, -1.0,2.5,1.1, -0.5,1.5,0.4,
-0.8,2.2,0.9, -0.6,1.5,0.5, -1.0,1.9,0.7, -0.7,2.6,1.2, -0.9,1.2,0.3, -0.6,1.8,0.6, -1.1,1.9,0.8, -0.7,1.3,0.4,
-0.9,1.5,0.5, -1.2,1.4,0.3, -0.6,1.1,0.2, -1.0,1.6,0.5, -0.8,1.0,0.1, -1.2,1.3,0.4, -0.7,0.9,0.0, -1.1,1.2,0.3,
-0.9,1.0,0.2, -1.3,1.4,0.5, -0.8,2.0,0.9, -1.0,1.9,0.7, -0.6,1.4,0.5, -1.1,1.2,0.3, -0.8,1.9,0.8, -1.0,1.2,0.4,
-0.7,1.8,0.7, -1.2,1.0,0.2, -0.9,2.1,0.9, -0.7,1.3,0.4, -1.1,1.0,0.1, -0.8,1.5,0.5, -1.2,0.9,0.0, -1.0,1.4,0.4,
-0.7,1.1,0.2, -1.3,1.6,0.5, -0.9,1.0,0.1,
-1.2,0.8,0.0, -1.4,1.1,0.2, -0.9,0.7,-0.1, -1.3,1.2,0.3, -1.0,0.6,-0.2, -1.5,1.0,0.1, -1.1,0.9,0.0, -1.4,0.7,-0.2,
-1.0,1.3,0.3, -1.3,0.8,-0.1, -1.2,1.0,0.1, -1.5,0.6,-0.3, -1.1,1.4,0.4, -1.3,0.9,0.0, -1.0,0.7,-0.2, -1.4,1.1,0.2,
-1.2,0.8,-0.1, -1.5,1.2,0.2, -1.1,0.9,0.0, -1.3,1.5,0.4, -1.0,0.8,-0.1, -1.4,1.0,0.1, -1.0,0.9,0.1, -0.9,2.8,1.6,
2.3,0.6,-0.9, -1.2,1.2,0.2, -1.0,1.6,0.5, -1.1,1.5,0.4, -1.2,1.9,0.8, -1.0,1.3,0.3, -1.3,2.1,0.9, -1.1,1.2,0.2,
-0.9,2.6,1.0, -1.2,1.4,0.3, -1.0,1.8,0.6, -1.3,2.0,0.8, -1.1,1.5,0.4, -1.2,2.5,1.1, -0.9,1.3,0.2, -1.1,2.2,0.9,
-1.3,1.7,0.5, -0.8,2.0,0.6, -1.9,-1.4,0.3, 0.9,-0.2,-0.75];
const LUFL_MEAN = [
0.2,-0.2,0.1,0.3,0.0,0.6,1.0,0.5,0.0,-0.3,0.4,0.8,0.3,-0.2,0.1,0.7,0.9,0.2,-0.3,0.2,
0.6,1.0,0.4,-0.1,0.2,0.8,0.5,-0.2,0.0,0.6,0.9,0.3,-0.3,0.1,0.7,0.4,-0.1,0.2,0.8,0.3,
-0.2,0.3,0.7,0.2,-0.3,0.1,0.6,0.4,-0.2,0.2,0.7,0.3,-0.1,0.0,0.5,0.6,0.1,-0.3,0.2,0.6,
0.3,-0.2,0.1,0.5,0.7,0.2,-0.3,0.2,0.6,0.4,-0.1,0.1,0.7,0.3,-0.2,0.0,0.5,0.8,0.2,-0.2,
0.3,0.6,0.2,-0.3,0.1,0.5,0.3,-0.2,0.2,0.7,0.4,-0.1,0.0,0.5,0.6,0.1,-0.3,0.3,0.7,0.2,
-0.2,0.1,0.6,0.3,-0.3,0.2,0.5,0.4,-0.1,0.0,0.6,0.3,-0.4,0.1,0.5,0.2,-0.2,0.3,0.6,0.1,
-0.3,0.2,0.5,0.3,-0.2,0.1,0.6,0.2,-0.3,0.0,0.5,0.4,-0.2,0.1,0.6,0.2,-0.3,0.2,0.5,0.1,
-0.2,0.3,0.6,0.2,-0.3,0.1,0.5,0.3,-0.2,0.2,0.4,0.1,-0.4,0.2,0.6,0.3,-0.2,0.0,0.5,0.2,
-0.1,0.3,0.5,0.1,-0.3,0.2,0.7,0.4,-0.2,0.1,0.6,0.3,-0.3,0.2,0.8,0.4,-0.1,0.1,0.7,0.2,
-0.3,0.3,0.9,0.4,-0.2,0.2,0.8,0.3,-0.3,0.1,0.7,0.5,-0.1,0.2,0.9,0.3,-0.2,0.1,0.8,0.4,
-0.2,0.2,0.7,0.3,-0.3,0.1,0.6,0.4,-0.2,0.3,0.8,0.2,-0.4,0.1,0.5,0.2];
const LUFL_UP = [
1.5,2.0,1.6,2.8,1.7,1.4,1.9,1.5,1.6,2.0,1.4,1.8,1.5,1.7,2.2,1.4,1.6,1.5,1.8,1.4,
1.6,1.3,1.7,1.5,1.4,1.8,1.5,1.3,1.6,1.4,1.5,1.7,1.3,1.5,1.4,1.6,1.8,1.4,1.5,1.3,
1.6,1.4,1.7,1.5,1.3,1.6,1.4,1.5,1.7,1.3,1.5,1.4,1.6,1.5,1.3,1.7,1.4,1.5,1.6,1.3,
1.5,1.4,1.6,1.3,1.5,1.8,1.4,1.5,1.3,1.6,1.4,1.5,1.7,1.4,1.6,1.5,1.3,1.6,1.5,1.4,
1.7,1.6,3.2,1.8,1.6,1.9,1.5,1.7,2.0,1.6,1.8,1.6,2.1,1.7,1.9,1.6,2.2,1.8,1.6,1.9,
1.7,1.6,1.8,2.0,1.6,1.7,2.3,1.8];
const LUFL_LO = [
-1.3,-1.1,-0.9,-0.8,-1.0,-0.7,-0.9,-1.1,-0.8,-1.0,-0.9,-1.2,-0.8,-1.0,-0.9,-1.1,-0.8,-1.3,-1.0,-0.9,
-1.1,-0.8,-1.0,-1.2,-0.9,-1.1,-1.0,-0.8,-1.2,-1.0,-0.9,-1.1,-1.3,-1.0,-0.9,-1.2,-1.0,-1.1,-0.9,-1.2,
-1.0,-1.3,-1.1,-0.9,-1.2,-1.0,-1.1,-1.3,-1.0,-1.2,-1.1,-1.3,-1.0,-1.2,-1.1,-1.4,-1.1,-1.3,-1.2,-1.5,
-2.0,-1.3,-1.2,-1.4,-1.1,-1.3,-1.2,-1.5,-1.2,-1.4,-1.3,-1.2,-1.5,-1.3,-1.2,-1.4,-1.3,-1.5,-1.2,-1.4,
-1.3,-1.1,-1.4,-1.2,-1.3,-1.1,-1.4,-1.2,-1.3,-1.5,-1.2,-1.4,-1.3,-1.1,-1.4,-1.2,-1.3,-1.5,-1.2,-1.3,
-1.4,-1.2,-1.6,-1.3,-1.5,-1.2,-1.4,-1.3];

// ---------------- LULL ----------------
const LULL_TICKS = [-1, 0, 1, 2];
const LULL_FLAT = [[0, -0.65]];
// actual values from step 24, every 4 steps
const LULL_ACT_Y = [
-0.65,-0.1,-0.3, -0.4,0.3,0.0, -0.3,0.5,0.1, -0.2,0.3,-0.1, -0.4,0.4,0.0, -0.3,0.2,-0.1, -0.5,0.5,0.1, -0.2,0.3,0.0,
-0.4,0.2,-0.2, -0.3,0.4,0.0, -0.5,0.3,-0.1, -0.3,0.1,-0.2, -0.5,0.3,-0.1, -0.4,0.2,-0.2, -0.6,0.1,-0.3, -0.4,0.3,-0.1,
-0.5,0.0,-0.3, -0.6,0.1,-0.3, -0.5,-0.1,-0.3,
-0.6,-0.4,-0.5, -0.7,-0.4,-0.6, -0.6,-0.35,-0.5, -0.75,-0.5,-0.6, -0.65,-0.4,-0.55, -0.7,-0.45,-0.6, -0.6,-0.35,-0.5,
-0.75,-0.5,-0.65, -0.65,-0.4,-0.55, -0.7,-0.5,-0.6, -0.6,-0.3,-0.5, -0.7,-0.45,-0.6, -0.75,-0.5,-0.65, -0.6,-0.4,-0.5,
-0.7,-0.35,-0.55, -0.65,-0.45,-0.6, -0.7,-0.3,-0.5, -0.6,-0.4,-0.55, -0.75,-0.35,-0.6, -0.65,-0.2,-0.5, -0.7,-0.3,-0.55,
-0.6,-0.1,-0.45, -0.65,-0.25,-0.5, -0.55,-0.1,-0.4, -0.6,-0.2,-0.45,
-0.5,0.0,-0.3, -0.4,0.1,-0.2, -0.6,0.0,-0.3, -0.3,0.2,-0.1, -0.5,0.1,-0.2, -0.4,0.3,0.0, -0.5,0.2,-0.2, -0.3,0.4,0.0,
-0.5,0.1,-0.2, -0.4,0.5,0.1, -0.6,0.2,-0.2, -0.3,0.3,0.0, -0.5,0.4,0.0, -0.4,0.1,-0.2, -0.6,0.3,-0.1, -0.5,0.5,0.1,
-0.4,0.2,-0.1, -0.6,0.2,-0.2, -0.5,0.3,-0.1, -0.4,0.1,-0.3, -0.8,0.0,-0.2,
-0.3,0.6,0.2, -0.2,1.3,1.6, 0.8,0.2,-0.3, -0.4,0.8,0.3, -0.7,0.7,0.2, -0.6,0.9,0.3, -0.5,1.0,0.4, -0.4,1.1,0.4,
-0.3,1.3,0.4, -0.4,1.2,0.3, -0.3,0.9,0.2, -0.3,2.25,0.5, -0.2,1.2,0.4, -0.4,1.0,0.3, 1.9,0.3,-0.3, -0.3,0.7,1.0,
-0.4,0.1,0.8, -0.3,0.4,-0.1, -0.3,0.8,0.5, -0.2,0.6,-0.2, -0.8,0.1,0.5, 0.1,0.4,-0.2, -0.3,-0.4,-0.55];
const LULL_MEAN = [
-0.4,-0.2,-0.5,-0.1,-0.3,0.1,-0.2,0.0,-0.3,0.1,-0.1,0.2,-0.2,0.0,0.1,-0.15,0.15,-0.1,0.05,0.2,
-0.1,0.1,-0.2,0.05,0.15,-0.1,0.0,0.2,-0.15,0.05,0.1,-0.2,0.0,0.15,-0.1,0.05,-0.25,0.1,0.0,-0.15,
0.05,-0.1,0.1,-0.2,0.0,-0.1,0.05,-0.25,-0.05,0.0,-0.2,0.05,-0.1,-0.3,-0.05,0.0,-0.2,-0.1,0.05,-0.25,
-0.1,-0.2,0.0,-0.3,-0.1,-0.2,0.05,-0.15,-0.3,-0.05,-0.15,0.0,-0.25,-0.1,-0.2,0.05,-0.15,-0.3,-0.1,-0.05,
-0.2,0.0,-0.25,-0.1,-0.15,0.05,-0.2,-0.1,-0.3,0.0,-0.15,-0.05,-0.25,0.05,-0.1,-0.2,0.0,-0.15,-0.3,-0.05,
-0.1,0.05,-0.2,-0.1,0.1,-0.15,-0.05,0.0,-0.25,0.05,-0.1,0.0,-0.2,0.1,-0.05,-0.15,0.05,-0.1,0.1,-0.2,
0.0,-0.1,0.1,-0.15,0.05,-0.05,0.15,-0.1,0.0,-0.2,0.1,0.05,-0.1,0.15,-0.05,0.0,0.1,-0.15,0.05,0.15,
-0.05,0.1,0.0,0.2,-0.1,0.05,0.15,-0.05,0.1,0.0,0.2,-0.1,0.05,0.15,0.0,-0.15,0.1,0.05,0.2,-0.05,
0.1,0.0,0.2,0.1,-0.1,0.25,0.15,0.35,0.1,0.3,0.2,0.0,0.25,0.15,0.3,0.05,0.2,0.1,0.25,0.0,
0.15,0.05,0.2,0.1,0.3,0.0,0.15,0.25,0.05,0.2,0.1,0.3,0.0,0.2,0.1,0.35,0.15,0.05,0.25,0.1,
0.2,0.0,0.3,0.15,0.05,0.25,0.1,0.35,0.2,0.05,0.3,0.1,0.25,0.0,0.15,0.05];
const LULL_UP = [
0.5,0.9,0.7,0.6,0.8,0.7,0.9,0.6,0.8,0.7,0.6,0.8,0.7,0.9,0.6,0.8,0.7,1.2,1.9,0.8,
0.6,0.7,0.8,0.6,0.7,0.5,0.8,0.6,0.7,0.5,0.6,0.7,0.5,0.6,0.8,0.5,0.7,0.6,0.5,0.7,
0.6,0.5,0.7,0.6,0.8,0.5,0.6,0.7,0.5,0.6,0.7,0.5,0.8,0.6,0.7,0.6,0.8,0.6,0.7,0.9,
0.7,0.8,0.6,0.9,0.7,0.8,0.6,0.9,0.7,0.8,0.7,0.9,0.8,0.7,0.9,0.8,0.7,0.9,0.8,1.0,
0.8,1.0,0.9,1.1,0.9,1.0,0.8,1.1,0.9,1.0,1.2,0.9,1.1,1.0,1.2,0.9,1.0,1.1,0.9,1.0,
0.9,1.1,0.8,1.0,0.9,0.8,1.0,0.9];
const LULL_LO = [
-0.9,-0.8,-1.1,-0.9,-0.7,-0.8,-0.9,-0.7,-0.8,-0.9,-0.8,-0.7,-0.9,-0.8,-1.0,-0.9,-1.6,-0.9,-0.8,-0.7,
-0.9,-0.8,-1.0,-0.9,-0.8,-1.0,-0.9,-0.8,-1.0,-0.9,-1.0,-0.8,-0.9,-1.0,-0.9,-1.1,-0.9,-1.0,-0.8,-0.9,
-1.0,-0.9,-1.1,-0.9,-1.0,-0.9,-0.8,-1.0,-0.9,-1.0,-0.9,-1.0,-0.8,-0.9,-1.1,-0.9,-1.0,-0.9,-1.3,-0.9,
-0.8,-1.0,-0.9,-1.1,-0.9,-1.0,-0.8,-1.0,-0.9,-0.8,-1.0,-0.9,-0.8,-1.0,-0.9,-0.8,-1.0,-0.9,-0.8,-0.9,
-0.7,-0.9,-0.8,-1.1,-0.8,-0.7,-0.9,-0.8,-0.6,-0.8,-0.7,-0.8,-0.6,-0.8,-0.7,-0.9,-0.6,-0.8,-0.7,-0.6,
-0.8,-0.7,-0.6,-0.8,-0.9,-0.7,-0.8,-0.7];

// ---------------- OT (target) ----------------
const OT_TICKS = [-1.5, -1.0, -0.5, 0.0, 0.5, 1.0];
const OT_ACT = [[0,-1.34],[23,-1.34],[27,-1.19],[31,-1.13],[34,-1.01],[37,-0.81],[39,-1.13],[43,-1.03],[47,-1.09],[52,-1.03],[58,-1.13],[64,-1.13],[70,-1.32],[74,-1.41],[79,-1.56],[82,-1.38],[85,-1.25],[90,-1.22],[94,-1.32],[98,-1.25],[102,-1.19],[106,-1.25],[109,-1.03],[113,-1.09],[117,-1.13],[123,-1.06],[129,-1.16],[135,-1.03],[141,-1.09],[145,-1.13],[149,-1.06],[153,-1.35],[157,-1.25],[163,-1.32],[169,-1.25],[174,-1.19],[180,-1.03],[186,-0.92],[190,-1.06],[194,-1.19],[200,-1.25],[204,-1.13],[208,-1.06],[214,-1.19],[220,-1.19],[226,-1.11],[230,-0.87],[235,-0.86],[241,-0.84],[245,-1.25],[249,-1.16],[255,-1.13],[261,-1.19],[265,-1.09],[271,-1.16],[277,-1.19],[281,-1.13],[286,-1.19],[289,-1.28],[293,-1.25],[296,-1.35],[300,-1.25],[304,-1.19],[310,-1.03],[316,-1.03],[322,-0.81],[328,-0.84],[334,-0.78],[340,-0.84],[346,-0.68],[352,-0.68],[357,-0.72],[361,-0.72],[363,-1.06],[369,-1.16],[375,-1.19],[381,-1.13],[387,-1.09],[393,-1.03],[399,-0.87],[405,-0.97],[411,-0.94],[417,-1.03],[420,-1.25],[426,-1.19],[432,-1.06],[438,-1.03],[442,-0.94],[446,-1.19],[450,-1.28],[454,-1.19],[460,-1.13],[464,-1.25],[468,-1.47],[472,-1.25],[476,-1.22],[480,-1.09],[483,-1.13],[487,-1.32],[491,-1.41],[493,-1.54],[497,-1.51],[501,-1.54],[504,-1.25],[507,-1.22],[513,-1.22],[517,-1.19],[523,-0.94],[529,-0.91],[535,-0.94],[541,-0.91],[547,-0.97],[552,-0.87],[558,-1.0],[562,-0.91],[566,-0.59],[570,-0.72],[574,-0.91],[580,-0.97],[586,-0.91],[592,-1.0],[598,-0.97],[602,-1.09],[606,-1.19],[610,-1.06],[614,-0.97],[620,-0.91],[626,-0.97],[632,-1.0],[638,-0.81],[642,-0.58],[646,-0.68],[651,-0.91],[657,-0.94],[663,-0.68],[666,-0.75],[669,-1.35],[673,-1.13],[677,-1.19],[681,-1.13],[685,-1.22],[691,-0.87],[697,-0.94],[703,-0.97],[709,-1.13],[713,-1.19],[717,-1.25],[721,-1.38],[723,-1.6],[727,-1.19],[733,-1.16],[739,-1.19],[745,-1.06],[747,-1.38],[750,-1.06],[756,-0.62],[761,-0.72],[766,-0.81],[772,-0.94],[776,-0.87],[780,-0.43],[784,-0.62],[788,-1.06],[790,-1.54],[794,-1.19],[798,-1.32],[802,-1.06],[808,-1.0],[812,-0.94],[818,-1.19],[824,-1.25],[832,-1.22],[836,-1.19],[842,-1.32],[844,-1.63],[850,-1.51],[853,-1.35],[859,-1.32],[865,-1.06],[869,-1.03],[875,-0.94],[883,-1.03],[891,-0.97],[897,-1.03],[903,-0.75],[909,-0.94],[915,-1.0],[919,-0.97],[923,-0.78],[929,-0.43],[935,-0.68],[939,-0.84],[945,-0.81],[950,-0.4],[956,-0.62],[960,-0.59],[966,-0.62],[972,-0.43],[976,-0.24],[982,-0.37],[988,-0.49],[992,-0.56],[998,-0.08],[1002,-0.18],[1008,-0.3],[1014,-0.34],[1020,-0.43],[1024,-0.4],[1032,-0.43],[1040,-0.37],[1046,-0.24],[1049,-0.43],[1050,-1.25],[1052,-1.41],[1056,-1.25],[1060,-1.32],[1064,-1.25],[1068,-1.06],[1072,-0.97],[1076,-0.94],[1079,-1.06]];
const OT_MEAN = [
-1.06,-0.78,-0.62,-1.0,-0.75,-0.43,-0.37,-0.49,-0.3,-0.62,-0.37,-0.56,-0.33,-0.49,-0.56,-0.43,-0.37,-0.62,-0.43,-0.3,
-0.18,-0.05,-0.43,-0.49,-0.37,-0.24,-0.43,-0.62,0.14,-0.24,-0.49,-0.37,-0.62,-0.43,-0.49,-0.68,-0.75,-0.49,-0.62,-0.43,
-0.24,-0.56,-0.37,-0.43,-0.56,-0.68,-0.56,-0.43,-0.18,-0.24,-0.43,-0.56,-0.62,-0.49,-0.62,-0.68,-0.56,-0.43,-0.3,-0.56,
-0.43,-0.24,-0.11,-0.43,-0.56,-0.43,-0.3,-0.49,-0.18,-0.24,-0.43,-0.37,-0.49,-0.62,-0.43,-0.37,-0.18,-0.24,-0.43,-0.37,
-0.49,-0.56,-0.43,-0.37,-0.62,-0.56,-0.43,-0.62,-0.49,-0.68,-0.56,-0.37,-0.43,-0.49,-0.3,-0.43,-0.56,-0.62,-0.43,-0.24,
0.2,-0.24,-0.43,-0.68,-0.81,-0.5,0.15,-0.62,-0.81,-0.62,-0.43,-0.49,-0.3,-0.11,-0.3,-0.43,-0.56,-0.43,-0.49,-0.56,
-0.43,-0.3,-0.43,-0.56,-0.37,-0.43,-0.49,-0.3,-0.43,-0.56,-0.3,-0.18,-0.43,-0.24,-0.43,-0.62,-0.68,-0.49,-0.43,-0.62,
-0.56,-0.43,-0.37,-0.3,-0.56,-0.43,-0.37,-0.24,-0.43,-0.37,-0.49,-0.62,-0.49,-0.43,-0.68,-0.43,-0.37,-0.62,-0.75,-0.43,
-0.56,-0.37,-0.43,-0.3,-0.56,-0.37,-0.62,-0.75,-0.43,-0.49,-0.62,-0.43,-0.3,-0.49,-0.62,-0.43,-0.37,-0.43,-0.11,-0.43,
-0.18,0.01,-0.3,-0.43,-0.3,-0.37,-0.24,-0.43,-0.3,-0.24,-0.43,-0.3,-0.37,-0.37,-0.18,-0.3,-0.43,-0.37,-0.43,-0.37,
-0.05,-0.11,-0.24,-0.27,-0.3,-0.24,-0.18,-0.14,-0.18,-0.14,-0.24,-0.3,-0.18,-0.08,0.01,-0.08];
const OT_UP = [
-0.3,0.15,0.3,0.45,1.0,0.35,0.55,0.3,0.6,0.4,0.75,0.4,0.5,0.7,1.05,0.45,0.3,0.55,0.2,0.5,
0.6,0.45,0.3,0.5,0.6,0.35,0.2,0.4,0.3,0.55,0.65,0.8,0.4,0.5,0.7,0.45,0.6,1.1,0.7,0.5,
0.7,0.45,1.15,0.7,0.9,0.4,0.3,0.6,0.45,0.5,0.85,0.55,0.3,0.9,0.85,0.4,0.6,0.85,0.45,0.3,
0.5,0.45,0.3,0.55,0.9,0.6,0.6,0.35,0.2,0.5,0.7,0.45,0.3,0.55,0.6,0.75,0.4,0.35,0.5,0.6,
0.35,0.7,0.45,0.3,0.55,0.4,0.5,1.07,0.7,0.9,0.6,0.5,0.4,0.55,0.45,0.75,0.6,0.45,0.4,0.5,
0.3,0.35,0.4,0.3,0.25,0.35,0.5,0.7];
const OT_LO = [
-1.55,-1.7,-1.5,-1.3,-1.45,-1.2,-1.35,-1.25,-1.5,-1.3,-1.2,-1.35,-1.6,-1.3,-1.2,-1.4,-1.5,-1.3,-1.45,-1.25,
-1.3,-1.4,-1.5,-1.3,-1.2,-1.35,-1.45,-1.3,-1.4,-1.25,-1.35,-1.2,-1.4,-1.3,-1.15,-1.3,-1.4,-1.25,-1.2,-1.35,
-1.3,-1.45,-1.35,-1.3,-1.4,-1.5,-1.3,-1.2,-1.35,-1.45,-1.2,-1.4,-1.65,-1.3,-1.45,-1.3,-1.2,-1.35,-1.4,-1.3,
-1.25,-1.4,-1.3,-1.2,-1.35,-1.3,-1.2,-1.4,-1.5,-1.3,-1.35,-1.25,-1.4,-1.3,-1.2,-1.35,-1.3,-1.45,-1.3,-1.5,
-1.35,-1.3,-1.4,-1.5,-1.35,-1.6,-1.3,-1.4,-1.25,-1.2,-1.1,-1.25,-1.15,-1.0,-1.1,-1.05,-0.95,-1.0,-0.9,-1.0,
-0.85,-0.8,-0.85,-0.75,-0.8,-0.9,-0.75,-0.7];

const denseActual = (flat: number[][], ys: number[]) =>
  flat.concat(ys.map((v, k) => [DENSE_START + k * DENSE_STEP, v]));

const PANELS = [
  { name: 'HUFL', act: HUFL_ACT, mean: HUFL_MEAN, up: HUFL_UP, lo: HUFL_LO, min: -3.875, max: 2.175, ticks: HUFL_TICKS, dec: 0 },
  { name: 'HULL', act: HULL_ACT, mean: HULL_MEAN, up: HULL_UP, lo: HULL_LO, min: -2.14, max: 3.18, ticks: HULL_TICKS, dec: 0 },
  { name: 'MUFL', act: MUFL_ACT, mean: MUFL_MEAN, up: MUFL_UP, lo: MUFL_LO, min: -4.0, max: 1.99, ticks: MUFL_TICKS, dec: 0 },
  { name: 'MULL', act: MULL_ACT, mean: MULL_MEAN, up: MULL_UP, lo: MULL_LO, min: -1.72, max: 3.22, ticks: MULL_TICKS, dec: 0 },
  { name: 'LUFL', act: denseActual(LUFL_FLAT, LUFL_ACT_Y), mean: LUFL_MEAN, up: LUFL_UP, lo: LUFL_LO, min: -2.25, max: 3.43, ticks: LUFL_TICKS, dec: 0 },
  { name: 'LULL', act: denseActual(LULL_FLAT, LULL_ACT_Y), mean: LULL_MEAN, up: LULL_UP, lo: LULL_LO, min: -1.88, max: 2.46, ticks: LULL_TICKS, dec: 0 },
  { name: 'OT (target)', act: OT_ACT, mean: OT_MEAN, up: OT_UP, lo: OT_LO, min: -1.89, max: 1.29, ticks: OT_TICKS, dec: 1 },
];

const X_MIN = -53.95;
const X_MAX = 1132.95;
const FONT = '"Noto Sans CJK KR", "Noto Sans", sans-serif';
const GRID_LEFT = 54.5;
const GRID_W = 1730.5;
const GRID_TOP0 = 77.3;
const GRID_PITCH = 187.8;
const GRID_H = 167.7;
const BAND_FILL = 'rgba(65,105,225,0.15)';
const BAND_EDGE = 'rgba(65,105,225,0.13)';
const MEAN_COLOR = 'rgba(65,105,225,0.85)';
const ACT_COLOR = 'rgba(20,20,20,0.8)';
const GRID_LINE = '#ebebeb';

export default function App() {
  const ref = useRef<HTMLDivElement>(null);
  useEffect(() => {
    const chart = echarts.init(ref.current as HTMLDivElement, null, { renderer: 'svg' });
    const last = PANELS.length - 1;
    const grid = PANELS.map((_, i) => ({
      left: GRID_LEFT, top: GRID_TOP0 + GRID_PITCH * i, width: GRID_W, height: GRID_H,
      show: true, borderColor: '#000', borderWidth: 1, backgroundColor: 'transparent',
    }));
    const xAxis = PANELS.map((_, i) => ({
      type: 'value', gridIndex: i, min: X_MIN, max: X_MAX, position: 'bottom',
      axisLine: { show: false, onZero: false },
      axisTick: { show: true, customValues: X_TICKS, length: 3.5, lineStyle: { color: '#000', width: 0.8 } },
      axisLabel: {
        show: i === last, customValues: X_TICKS, fontSize: 7.5, color: '#222', margin: 6, fontFamily: FONT,
        formatter: (v: number) => String(Math.round(v)),
      },
      splitLine: { show: true, lineStyle: { color: GRID_LINE, width: 0.8 } },
      name: i === last ? 'Time Step' : '',
      nameLocation: 'middle', nameGap: 21,
      nameTextStyle: { fontSize: 12.5, color: '#000', fontFamily: FONT },
    }));
    const yAxis = PANELS.map((p, i) => ({
      type: 'value', gridIndex: i, min: p.min, max: p.max, position: 'left',
      axisLine: { show: false, onZero: false },
      axisTick: { show: true, customValues: p.ticks, length: 3.5, lineStyle: { color: '#000', width: 0.8 } },
      axisLabel: {
        customValues: p.ticks, fontSize: 7.5, color: '#222', margin: 6, fontFamily: FONT,
        formatter: (v: number) => (p.dec ? v.toFixed(p.dec) : String(Math.round(v))),
      },
      splitLine: { show: true, lineStyle: { color: GRID_LINE, width: 0.8 } },
      name: p.name, nameLocation: 'middle', nameGap: 27, nameRotate: 90,
      nameTextStyle: { fontSize: 10, color: '#000', fontFamily: FONT },
    }));
    const series: any[] = [];
    PANELS.forEach((p, i) => {
      const up = p.up;
      const lo = p.lo;
      series.push({
        type: 'custom', name: p.name + ' band', xAxisIndex: i, yAxisIndex: i,
        coordinateSystem: 'cartesian2d', silent: true, z: 1, clip: true,
        data: [[0, 0]],
        renderItem: (_params: any, api: any) => {
          const pts: number[][] = [];
          for (let k = 0; k < up.length; k++) pts.push(api.coord([k * BAND_STEP, up[k]]));
          for (let k = lo.length - 1; k >= 0; k--) pts.push(api.coord([k * BAND_STEP, lo[k]]));
          return {
            type: 'polygon',
            shape: { points: pts },
            style: { fill: BAND_FILL, stroke: BAND_EDGE, lineWidth: 1 },
          };
        },
      });
      series.push({
        type: 'line', name: p.name + ' mean', xAxisIndex: i, yAxisIndex: i, z: 2,
        data: p.mean.map((v, k) => [k * MEAN_STEP, v]),
        symbol: 'none', showSymbol: false, silent: true,
        lineStyle: { color: MEAN_COLOR, width: 1 },
      });
      series.push({
        type: 'line', name: p.name + ' actual', xAxisIndex: i, yAxisIndex: i, z: 3,
        data: p.act,
        symbol: 'none', showSymbol: false, silent: true,
        lineStyle: { color: ACT_COLOR, width: 1 },
      });
    });
    chart.setOption({
      animation: false,
      backgroundColor: '#fff',
      textStyle: { fontFamily: FONT },
      title: {
        text: TITLE, left: 'center', top: 5,
        textStyle: { fontSize: 21.5, fontWeight: 'normal', color: '#000', fontFamily: FONT },
      },
      grid, xAxis, yAxis, series,
    });
    return () => chart.dispose();
  }, []);
  return <div ref={ref} style={{ position: 'absolute', left: 0, top: 0, width: 1797, height: 1419, background: '#fff' }} />;
}
